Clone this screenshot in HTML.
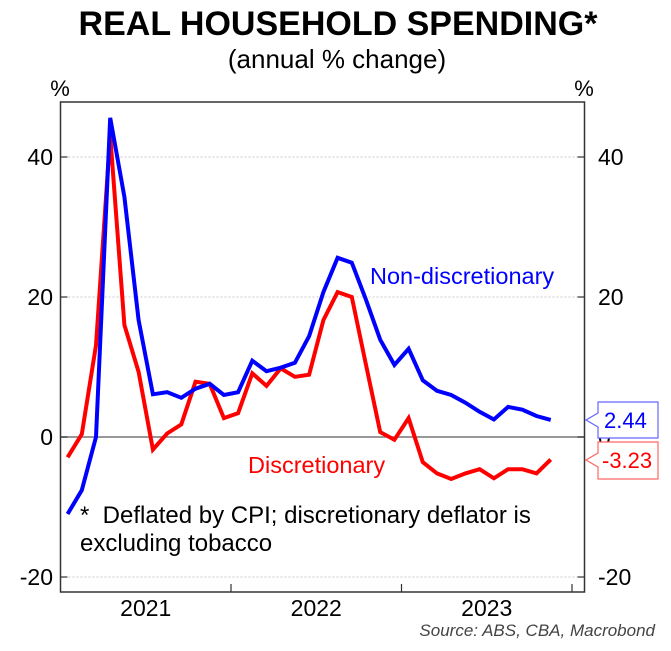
<!DOCTYPE html>
<html><head><meta charset="utf-8"><style>
body{margin:0;background:#fff;}
svg{display:block;font-family:"Liberation Sans",Arial,sans-serif;}
</style></head><body>
<svg id="chart" width="671" height="651" viewBox="0 0 671 651" xmlns="http://www.w3.org/2000/svg">
<text x="338" y="35" text-anchor="middle" font-size="34" font-weight="bold">REAL HOUSEHOLD SPENDING*</text>
<text x="337" y="68" text-anchor="middle" font-size="26">(annual % change)</text>
<text x="60" y="96" text-anchor="middle" font-size="22">%</text>
<text x="584" y="96" text-anchor="middle" font-size="22">%</text>
<g id="grid"></g>
<g id="series"></g>
<rect x="60.5" y="102" width="524" height="490" fill="none" stroke="#333" stroke-width="1.5"/>
<g id="axes"></g>
<text x="370" y="284" font-size="23.5" fill="#0000ff">Non-discretionary</text>
<text x="248" y="473" font-size="23.5" fill="#ff0000">Discretionary</text>
<text x="80" y="523" font-size="24">*&#160;&#160;Deflated by CPI; discretionary deflator is</text>
<text x="80" y="551" font-size="24">excluding tobacco</text>
<g>
<path d="M598,402 H658 V438 H598 V427 L586,420 L598,413 Z" fill="#fff" stroke="#6666ff" stroke-width="1.2"/>
<text x="604" y="428" font-size="22" fill="#0000ff">2.44</text>
</g>
<g>
<path d="M598,442 H658 V479 H598 V467 L586,460 L598,453 Z" fill="#fff" stroke="#ff6666" stroke-width="1.2"/>
<text x="602" y="468" font-size="22" fill="#ff0000">-3.23</text>
</g>
<text x="655" y="636" text-anchor="end" font-size="17" font-style="italic" fill="#444">Source: ABS, CBA, Macrobond</text>
</svg>
<script>
const yTicks=[40,20,0,-20];
const yearLabels=["2021","2022","2023"];
const nonDisc=[-11.0,-7.6,0.0,45.6,34.3,16.7,6.1,6.4,5.6,6.9,7.6,6.0,6.4,10.9,9.4,9.9,10.6,14.4,20.7,25.6,24.9,19.6,13.9,10.3,12.6,8.1,6.6,6.0,4.9,3.6,2.5,4.3,3.9,3.0,2.44];
const disc=[-2.9,0.4,13.1,43.1,16.0,9.3,-1.8,0.5,1.8,7.9,7.6,2.7,3.4,9.1,7.3,9.8,8.6,8.9,16.7,20.7,20.0,10.3,0.7,-0.4,2.7,-3.6,-5.2,-6.0,-5.2,-4.6,-5.9,-4.6,-4.6,-5.2,-3.23];
const NS="http://www.w3.org/2000/svg";
const X0=60.5, MW=170.5/12;
function xM(m){return X0+m*MW;}
function yV(v){return 437-v*7;}
const grid=document.getElementById('grid'),axes=document.getElementById('axes'),ser=document.getElementById('series');
function mk(tag,attrs,parent){const e=document.createElementNS(NS,tag);for(const k in attrs)e.setAttribute(k,attrs[k]);parent.appendChild(e);return e;}
yTicks.forEach(v=>{
  const y=yV(v);
  const g=mk('line',{x1:X0,x2:584.5,y1:y,y2:y,stroke:v===0?'#777':'#ccc','stroke-width':v===0?1.5:1,'stroke-dasharray':v===0?'none':'2,2'},grid);
  
  
  mk('line',{x1:X0,x2:X0+7,y1:y,y2:y,stroke:'#333','stroke-width':1.2},axes);
  mk('line',{x1:577.5,x2:584.5,y1:y,y2:y,stroke:'#333','stroke-width':1.2},axes);
  const t1=mk('text',{x:53,y:y+8,'text-anchor':'end','font-size':23},axes);t1.textContent=v;
  
  
  const t2=mk('text',{x:598,y:y+8,'font-size':23},axes);t2.textContent=v;
  
  
});
for(let i=1;i<=3;i++){
  const x=xM(12*i);
  mk('line',{x1:x,x2:x,y1:592,y2:584,stroke:'#333','stroke-width':1.2},axes);
}
yearLabels.forEach((l,i)=>{
  const t=mk('text',{x:xM(12*i+6),y:616,'text-anchor':'middle','font-size':23},axes);t.textContent=l;
  
  
});
function line(data,color,name){
  const d=data.map((v,i)=>(i?'L':'M')+xM(i+0.5).toFixed(1)+','+yV(v).toFixed(1)).join(' ');
  const p=mk('path',{d:d,fill:'none',stroke:color,'stroke-width':4,'stroke-linejoin':'miter'},ser);
  
  
}
line(disc,'#ff0000','discretionary-line');
line(nonDisc,'#0000ff','non-discretionary-line');
</script>
</body></html>
